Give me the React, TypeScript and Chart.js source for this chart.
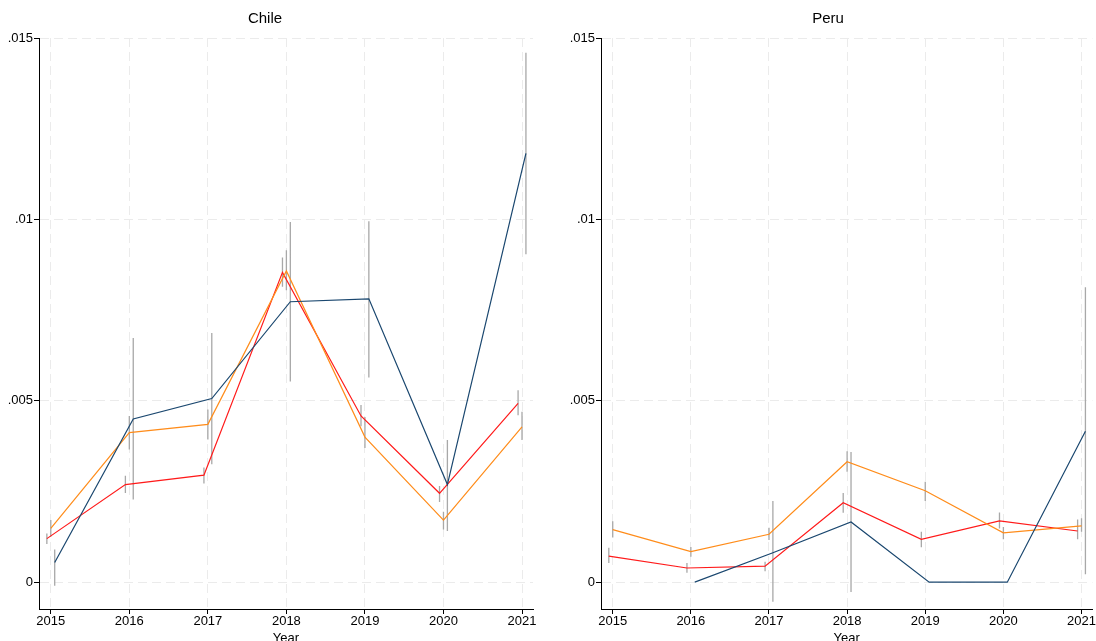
import React, { useEffect, useRef } from "react";
import { Chart, registerables } from "chart.js";

Chart.register(...registerables);

// ---------- data ----------
const years = [2015, 2016, 2017, 2018, 2019, 2020, 2021];
const yTickValues = [0, 0.005, 0.01, 0.015];
const yTickLabels = ["0", ".005", ".01", ".015"];
const panelTitles = ["Chile", "Peru"];
const xAxisTitle = "Year";

// Chile
const chileNavy = [0.00054, 0.0045, 0.00506, 0.00773, 0.00781, 0.00269, 0.01182];
const chileNavyLo = [-0.0001, 0.00228, 0.00325, 0.00553, 0.00564, 0.00141, 0.00904];
const chileNavyHi = [0.0009, 0.00673, 0.00687, 0.00993, 0.00995, 0.00392, 0.01459];
const chileOrange = [0.00148, 0.00412, 0.00435, 0.00858, 0.004, 0.00171, 0.00428];
const chileOrangeLo = [0.00125, 0.00366, 0.00393, 0.00805, 0.0037, 0.00145, 0.00392];
const chileOrangeHi = [0.00171, 0.00458, 0.00476, 0.00915, 0.00455, 0.00194, 0.0047];
const chileRed = [0.0012, 0.00269, 0.00295, 0.00854, 0.00458, 0.00245, 0.00493];
const chileRedLo = [0.00105, 0.00246, 0.00272, 0.00814, 0.0043, 0.00221, 0.0046];
const chileRedHi = [0.00134, 0.00293, 0.00316, 0.00895, 0.00488, 0.00265, 0.00529];

// Peru
const peruNavy = [null, 0, 0.00081, 0.00166, 0, 0, 0.00416];
const peruNavyLo = [null, null, -0.00054, -0.00027, null, null, 0.00022];
const peruNavyHi = [null, null, 0.00224, 0.00359, null, null, 0.00813];
const peruOrange = [0.00145, 0.00084, 0.00132, 0.00332, 0.00252, 0.00136, 0.00155];
const peruOrangeLo = [0.00123, 0.0007, 0.00116, 0.00304, 0.00224, 0.00118, 0.00139];
const peruOrangeHi = [0.00168, 0.00097, 0.0015, 0.00361, 0.00277, 0.00152, 0.00176];
const peruRed = [0.00072, 0.00039, 0.00044, 0.00219, 0.00118, 0.00169, 0.00141];
const peruRedLo = [0.00053, 0.00026, 0.0003, 0.00191, 0.00096, 0.00148, 0.00118];
const peruRedHi = [0.00095, 0.00053, 0.00056, 0.00246, 0.00139, 0.00192, 0.00173];

// ---------- styling ----------
const FONT = "'Liberation Sans', Arial, Helvetica, sans-serif";
const NAVY = "#1a476f";
const ORANGE = "#ff8c1a";
const RED = "#ff1a1a";
const DODGE = 0.05; // horizontal offset (years) between series

type Series = {
  name: string;
  color: string;
  dx: number;
  v: (number | null)[];
  lo: (number | null)[];
  hi: (number | null)[];
};

const chileSeries: Series[] = [
  { name: "navy", color: NAVY, dx: DODGE, v: chileNavy, lo: chileNavyLo, hi: chileNavyHi },
  { name: "orange", color: ORANGE, dx: 0, v: chileOrange, lo: chileOrangeLo, hi: chileOrangeHi },
  { name: "red", color: RED, dx: -DODGE, v: chileRed, lo: chileRedLo, hi: chileRedHi },
];
const peruSeries: Series[] = [
  { name: "navy", color: NAVY, dx: DODGE, v: peruNavy, lo: peruNavyLo, hi: peruNavyHi },
  { name: "orange", color: ORANGE, dx: 0, v: peruOrange, lo: peruOrangeLo, hi: peruOrangeHi },
  { name: "red", color: RED, dx: -DODGE, v: peruRed, lo: peruRedLo, hi: peruRedHi },
];

const errPlugin = {
  id: "errbars",
  beforeDatasetsDraw(chart: any, _args: any, opts: any) {
    const { ctx, scales } = chart;
    const x = scales.x;
    const y = scales.y;
    ctx.save();
    ctx.strokeStyle = "#a8a8a8";
    ctx.lineWidth = 1.3;
    ctx.beginPath();
    (opts.series as Series[]).forEach((s) => {
      s.lo.forEach((lo, i) => {
        const hi = s.hi[i];
        if (lo == null || hi == null) return;
        const px = x.getPixelForValue(years[i] + s.dx);
        ctx.moveTo(px, y.getPixelForValue(lo));
        ctx.lineTo(px, y.getPixelForValue(hi));
      });
    });
    ctx.stroke();
    ctx.restore();
  },
};

const textPlugin = {
  id: "paneltext",
  afterDraw(chart: any, _args: any, opts: any) {
    const { ctx, chartArea } = chart;
    ctx.save();
    ctx.fillStyle = "#000";
    ctx.textAlign = "center";
    ctx.textBaseline = "middle";
    ctx.font = `15px ${FONT}`;
    ctx.fillText(opts.title, opts.titleX, 19);
    ctx.font = `13px ${FONT}`;
    ctx.fillText(xAxisTitle, (chartArea.left + chartArea.right) / 2, 638);
    ctx.restore();
  },
};

function Panel(props: {
  title: string;
  series: Series[];
  yAxisWidth: number;
  padRight: number;
  titleX: number;
  left: number;
}) {
  const ref = useRef<HTMLCanvasElement>(null);
  useEffect(() => {
    const canvas = ref.current!;
    const gridColor = "#ebebeb";
    const chart = new Chart(canvas, {
      type: "line",
      data: {
        datasets: props.series.map((s) => ({
          label: s.name,
          data: years
            .map((yr, i) => ({ x: yr + s.dx, y: s.v[i] as number }))
            .filter((p) => p.y !== null),
          borderColor: s.color,
          backgroundColor: s.color,
          borderWidth: 1.2,
          pointRadius: 0,
          tension: 0,
          fill: false,
        })),
      },
      options: {
        responsive: false,
        animation: false,
        events: [],
        layout: { padding: { top: 38, right: props.padRight, left: 0, bottom: 0 } },
        plugins: {
          legend: { display: false },
          tooltip: { enabled: false },
          title: { display: false },
          errbars: { series: props.series },
          paneltext: { title: props.title, titleX: props.titleX },
        } as any,
        scales: {
          x: {
            type: "linear",
            min: 2014.85,
            max: 2021.14,
            afterBuildTicks: (scale: any) => {
              scale.ticks = years.map((v) => ({ value: v }));
            },
            afterFit: (scale: any) => {
              scale.height = 32;
            },
            ticks: {
              color: "#000",
              font: { family: FONT, size: 13 },
              padding: 0,
              maxRotation: 0,
              autoSkip: false,
              callback: (v: any) => String(v),
            },
            grid: {
              color: gridColor,
              lineWidth: 1,
              drawTicks: true,
              tickLength: 5,
              tickColor: "#000",
              tickWidth: 1,
            },
            border: { display: true, color: "#000", width: 1, dash: [9, 5] },
          },
          y: {
            type: "linear",
            min: -0.00074,
            max: 0.015,
            afterBuildTicks: (scale: any) => {
              scale.ticks = yTickValues.map((v) => ({ value: v }));
            },
            afterFit: (scale: any) => {
              scale.width = props.yAxisWidth;
            },
            ticks: {
              color: "#000",
              font: { family: FONT, size: 13 },
              padding: 1,
              callback: (v: any) => {
                const idx = yTickValues.findIndex((t) => Math.abs(t - v) < 1e-9);
                return idx >= 0 ? yTickLabels[idx] : "";
              },
            },
            grid: {
              color: gridColor,
              lineWidth: 1,
              drawTicks: true,
              tickLength: 5,
              tickColor: "#000",
              tickWidth: 1,
            },
            border: { display: true, color: "#000", width: 1, dash: [9, 5] },
          },
        },
      } as any,
      plugins: [errPlugin, textPlugin],
    });
    return () => chart.destroy();
  }, []);
  return (
    <canvas
      ref={ref}
      width={548}
      height={641}
      style={{ position: "absolute", left: props.left, top: 0, width: 548, height: 641, display: "block" }}
    />
  );
}

export default function App() {
  return (
    <div
      style={{
        position: "absolute",
        left: 0,
        top: 0,
        width: 1096,
        height: 641,
        background: "#fff",
        overflow: "hidden",
      }}
    >
      <Panel title={panelTitles[0]} series={chileSeries} yAxisWidth={39} padRight={15} titleX={265} left={0} />
      <Panel title={panelTitles[1]} series={peruSeries} yAxisWidth={53} padRight={1} titleX={280} left={548} />
    </div>
  );
}
